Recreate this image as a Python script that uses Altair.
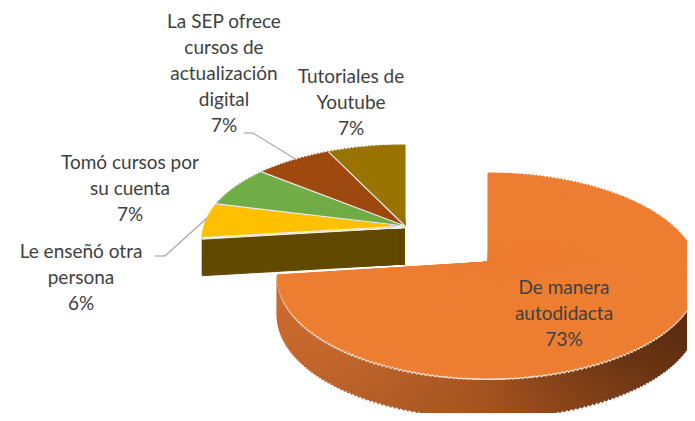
import altair as alt
import pandas as pd

categorias = ["De manera autodidacta", "Le enseñó otra persona", "Tomó cursos por su cuenta",
              "La SEP ofrece cursos de actualización digital", "Tutoriales de Youtube"]
etiquetas = ["De manera\nautodidacta", "Le enseñó otra\npersona", "Tomó cursos por\nsu cuenta",
             "La SEP ofrece\ncursos de\nactualización\ndigital", "Tutoriales de\nYoutube"]
valores = [73, 6, 7, 7, 7]
colores = ["#ED7D31", "#FFC000", "#70AD47", "#9E480E", "#997300"]

df = pd.DataFrame({"categoria": categorias, "etiqueta": etiquetas,
                   "valor": valores, "orden": list(range(len(valores)))})

STEP = 0.02
color_scale = alt.Scale(domain=categorias, range=colores)


def arcos(filtro, a, b, k, cy, depth=None):
    c = (alt.Chart(df)
         .transform_joinaggregate(total="sum(valor)")
         .transform_window(acum="sum(valor)", sort=[alt.SortField("orden")])
         .transform_filter(filtro)
         .transform_calculate(p0="2*PI*(datum.acum-datum.valor)/datum.total")
         .transform_calculate(p1="2*PI*datum.acum/datum.total"))
    if depth is not None:
        c = (c.transform_calculate(dys=f"sequence(2, {depth + 1}, 2)")
             .transform_flatten(["dys"])
             .transform_calculate(yp=f"{cy} + datum.dys"))
    else:
        c = c.transform_calculate(yp=f"{cy}")
    c = (c.transform_calculate(paso=f"sequence(0, ceil((datum.p1-datum.p0)/{STEP}))")
         .transform_flatten(["paso"])
         .transform_calculate(f0=f"datum.p0 + datum.paso*{STEP}")
         .transform_calculate(f1=f"min(datum.p0 + (datum.paso+1)*{STEP}, datum.p1)")
         .transform_calculate(fm="(datum.f0+datum.f1)/2")
         .transform_calculate(t0r=f"atan2({a}*sin(datum.f0), {b}*cos(datum.f0))")
         .transform_calculate(t1r=f"atan2({a}*sin(datum.f1), {b}*cos(datum.f1))")
         .transform_calculate(t0="datum.t0r < 0 || (datum.f0 > PI && datum.t0r < 1e-6) ? datum.t0r + 2*PI : datum.t0r")
         .transform_calculate(t1="datum.t1r < 0 || (datum.f1 > PI && datum.t1r < 1e-6) ? datum.t1r + 2*PI : datum.t1r")
         .transform_calculate(r=f"sqrt(pow({a}*sin(datum.fm),2) + pow({b}*cos(datum.fm),2)) / (1 + {k}*cos(datum.fm))")
         .transform_calculate(sx="sin(datum.fm)"))
    return c


def enc(chart, cx, color, stroke):
    return chart.encode(
        theta=alt.Theta("t0:Q", scale=None, stack=None),
        theta2="t1:Q",
        radius=alt.Radius("r:Q", scale=None, stack=None),
        x=alt.value(cx),
        y=alt.Y("yp:Q", scale=None, axis=None, stack=None),
        color=color,
        stroke=stroke,
    )


# geometry of the two groups (layout constants)
BA, BB, BK, BCX, BCY, BD = 209, 100.7, 0.1317, 480, 254, 40
SA, SB, SK, SCX, SCY, SD = 201, 91.7, 0.1317, 397, 218, 38
SW = 1.0

cat_color = alt.Color("categoria:N", scale=color_scale, legend=None)
cat_stroke = alt.Stroke("categoria:N", scale=color_scale, legend=None)

# small group
small_side = enc(arcos("datum.orden == 1", SA, SB, SK, SCY, SD)
                 .mark_arc(strokeWidth=SW, strokeJoin="round"),
                 SCX, alt.value("#634A00"), alt.value("#634A00"))
small_rim = enc(arcos("datum.orden > 0", SA, SB, SK, SCY)
                .mark_arc(strokeWidth=SW, yOffset=1.5),
                SCX, alt.value("#f4f0e6"), alt.value("#f4f0e6"))
small_top = enc(arcos("datum.orden > 0", SA, SB, SK, SCY)
                .mark_arc(strokeWidth=SW, strokeJoin="round"),
                SCX, cat_color, cat_stroke)
small_sep = (alt.Chart(df)
             .transform_joinaggregate(total="sum(valor)")
             .transform_window(acum="sum(valor)", sort=[alt.SortField("orden")])
             .transform_filter("datum.orden > 0")
             .transform_calculate(f0="2*PI*(datum.acum-datum.valor)/datum.total")
             .transform_calculate(t0=f"atan2({SA}*sin(datum.f0), {SB}*cos(datum.f0))")
             .transform_calculate(t0="datum.t0 < 0 ? datum.t0 + 2*PI : datum.t0")
             .transform_calculate(r=f"sqrt(pow({SA}*sin(datum.f0),2) + pow({SB}*cos(datum.f0),2)) / (1 + {SK}*cos(datum.f0))")
             .mark_arc(stroke="#eeeeee", strokeWidth=1.2, fillOpacity=0)
             .encode(theta=alt.Theta("t0:Q", scale=None, stack=None), theta2="t0:Q",
                     radius=alt.Radius("r:Q", scale=None),
                     x=alt.value(SCX), y=alt.value(SCY)))

# big slice
side_scale = alt.Scale(domain=[-1, 0, 1], range=["#c96a2f", "#a3531f", "#5a2c10"])
big_side = enc(arcos("datum.orden == 0", BA, BB, BK, BCY, BD)
               .transform_filter("datum.fm > 1.2")
               .mark_arc(strokeWidth=SW, strokeJoin="round"),
               BCX, alt.Color("sx:Q", scale=side_scale, legend=None),
               alt.Stroke("sx:Q", scale=side_scale, legend=None))
big_rim = enc(arcos("datum.orden == 0", BA, BB, BK, BCY)
              .mark_arc(strokeWidth=SW, yOffset=1.5),
              BCX, alt.value("#f6e6da"), alt.value("#f6e6da"))
big_top = enc(arcos("datum.orden == 0", BA, BB, BK, BCY)
              .mark_arc(strokeWidth=SW, strokeJoin="round"),
              BCX, cat_color, cat_stroke)

# labels
FONT = "Lato"
FS = 19
label_pos = {0: (556, 271), 1: (73, 235), 2: (122, 146), 3: (216, 5), 4: (343, 60)}
labels = []
for i, (lx, ly) in label_pos.items():
    labels.append(
        alt.Chart(df)
        .transform_joinaggregate(total="sum(valor)")
        .transform_filter(f"datum.orden == {i}")
        .transform_calculate(txt="datum.etiqueta + '\\n' + format(datum.valor/datum.total, '.0%')")
        .mark_text(font=FONT, fontSize=FS, color="#404040", align="center",
                   baseline="top", lineBreak="\n", lineHeight=26)
        .encode(x=alt.value(lx), y=alt.value(ly), text="txt:N")
    )

# leader lines
leaders = []
for i, segs in {1: [(147, 248, 157, 248), (157, 248, 199, 210)],
                3: [(236, 125, 245, 125), (245, 125, 289, 152)]}.items():
    for (x1, y1, x2, y2) in segs:
        leaders.append(
            alt.Chart(df).transform_filter(f"datum.orden == {i}")
            .mark_rule(color="#a6a6a6", strokeWidth=1.2)
            .encode(x=alt.value(x1), y=alt.value(y1), x2=alt.value(x2), y2=alt.value(y2))
        )

chart = alt.layer(
    small_side, small_rim, small_top, small_sep,
    big_side, big_rim, big_top,
    *leaders, *labels
).properties(
    width=679, height=405, padding=0, autosize="none", background="white"
).configure_view(stroke=None)

chart.save("out.html", embed_options={"renderer": "svg", "actions": False})
